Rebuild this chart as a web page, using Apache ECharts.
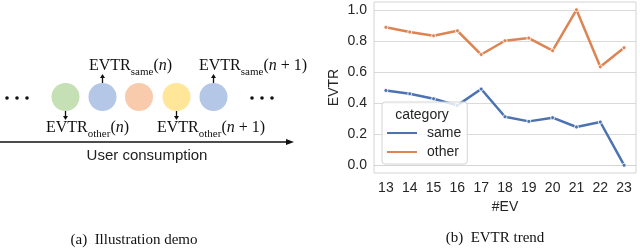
<!DOCTYPE html>
<html>
<head>
<meta charset="utf-8">
<script src="https://cdn.jsdelivr.net/npm/echarts@6/dist/echarts.min.js"></script>
<style>html,body{margin:0;padding:0;background:#fff}#c{width:640px;height:252px}</style>
</head>
<body>
<div id="c"></div>
<script>
// ---- data ----
const evCategories = ['13','14','15','16','17','18','19','20','21','22','23'];
const sameValues  = [0.481, 0.460, 0.428, 0.385, 0.490, 0.312, 0.282, 0.306, 0.246, 0.278, 0.000];
const otherValues = [0.887, 0.857, 0.833, 0.865, 0.712, 0.801, 0.818, 0.737, 1.000, 0.633, 0.756];
const yTickValues = [0, 0.2, 0.4, 0.6, 0.8, 1.0];
const seriesNames = ['same', 'other'];
const legendTitle = 'category';
const xAxisTitle = '#EV';
const yAxisTitle = 'EVTR';
const captionA = '(a)  Illustration demo';
const captionB = '(b)  EVTR trend';
const axisCaption = 'User consumption';

const BLUE = '#4c72b0', ORANGE = '#dd8452';
const SANS = 'Liberation Sans, Arial, sans-serif';
const SERIF = 'Liberation Serif, Times New Roman, serif';

const chart = echarts.init(document.getElementById('c'), null, {renderer: 'canvas'});

const rich = {
  m: {fontFamily: SERIF, fontSize: 16, color: '#111', verticalAlign: 'middle', lineHeight: 18},
  s: {fontFamily: SERIF, fontSize: 11, color: '#111', verticalAlign: 'bottom', lineHeight: 18, padding: [0, 0, -3, 0]},
  i: {fontFamily: SERIF, fontSize: 16, fontStyle: 'italic', color: '#111', verticalAlign: 'middle', lineHeight: 18}
};
function evtr(sub, arg) {
  return '{m|EVTR}{s|' + sub + '}{m|(}' + arg + '{m|)}';
}
function label(x, y, text) {
  return {type: 'text', left: x, top: y, z: 50, style: {text: text, rich: rich, fill: '#111'}};
}
function arrow(x, y1, y2) {
  const dir = y2 > y1 ? 1 : -1;
  return [
    {type: 'line', z: 50, shape: {x1: x, y1: y1, x2: x, y2: y2 - dir * 3}, style: {stroke: '#111', lineWidth: 1.3}},
    {type: 'polygon', z: 50, shape: {points: [[x - 2.5, y2 - dir * 4], [x + 2.5, y2 - dir * 4], [x, y2]]}, style: {fill: '#111'}}
  ];
}
const circleDefs = [[65.5, '#c5e0b4'], [102.5, '#b4c7e7'], [139, '#f8cbad'], [176.5, '#ffe699'], [213.5, '#b4c7e7']];
const graphics = [];
circleDefs.forEach(function (c) {
  graphics.push({type: 'circle', z: 40, shape: {cx: c[0], cy: 97, r: 14}, style: {fill: c[1]}});
});
[7, 17, 27, 252, 262, 272].forEach(function (x) {
  graphics.push({type: 'circle', z: 40, shape: {cx: x, cy: 98, r: 1.8}, style: {fill: '#111'}});
});
graphics.push.apply(graphics, arrow(102.5, 83, 74));
graphics.push.apply(graphics, arrow(213.5, 83, 74));
graphics.push.apply(graphics, arrow(65.5, 111, 120));
graphics.push.apply(graphics, arrow(176.5, 111, 120));
graphics.push(label(89, 58, evtr('same', '{i|n}')));
graphics.push(label(199, 58, evtr('same', '{i|n}{m| + 1}')));
graphics.push(label(46, 120, evtr('other', '{i|n}')));
graphics.push(label(157, 120, evtr('other', '{i|n}{m| + 1}')));
graphics.push({type: 'line', z: 40, shape: {x1: 0, y1: 142, x2: 288, y2: 142}, style: {stroke: '#111', lineWidth: 1.5}});
graphics.push({type: 'polygon', z: 40, shape: {points: [[286, 139], [286, 145], [294, 142]]}, style: {fill: '#111'}});
graphics.push({type: 'text', z: 40, x: 147, y: 156, style: {text: axisCaption, font: '15px ' + SANS, fill: '#222', align: 'center', verticalAlign: 'middle'}});
graphics.push({type: 'text', z: 40, x: 134, y: 240, style: {text: captionA, font: '15px ' + SERIF, fill: '#111', align: 'center', verticalAlign: 'middle'}});
graphics.push({type: 'text', z: 40, x: 495, y: 238, style: {text: captionB, font: '15px ' + SERIF, fill: '#111', align: 'center', verticalAlign: 'middle'}});
graphics.push({type: 'text', z: 100, x: 422, y: 115, style: {text: legendTitle, font: '14px ' + SANS, fill: '#262626', align: 'center', verticalAlign: 'middle'}});

chart.setOption({
  animation: false,
  backgroundColor: '#fff',
  grid: {left: 374, right: 4, top: 2, bottom: 79, show: true, borderColor: '#d4d4d4', borderWidth: 1, containLabel: false},
  xAxis: {
    type: 'category', data: evCategories, boundaryGap: true,
    name: xAxisTitle, nameLocation: 'middle', nameGap: 26,
    nameTextStyle: {fontFamily: SANS, fontSize: 14, color: '#262626'},
    axisLine: {show: true, lineStyle: {color: '#d4d4d4'}},
    axisTick: {show: false},
    axisLabel: {fontFamily: SANS, fontSize: 14, color: '#262626', margin: 8},
    splitLine: {show: false}
  },
  yAxis: {
    type: 'value', min: -0.05, max: 1.05,
    name: yAxisTitle, nameLocation: 'middle', nameGap: 33, nameRotate: 90,
    nameTextStyle: {fontFamily: SANS, fontSize: 14, color: '#262626'},
    axisLine: {show: false},
    axisTick: {show: false, customValues: yTickValues},
    axisLabel: {fontFamily: SANS, fontSize: 14, color: '#262626', margin: 7, customValues: yTickValues,
      formatter: function (v) { return v.toFixed(1); }},
    splitLine: {show: true, lineStyle: {color: '#dadada', width: 1}}
  },
  legend: {
    orient: 'vertical', left: 382, top: 102,
    padding: [24, 6, 5, 5], itemGap: 5,
    itemWidth: 30, itemHeight: 2,
    backgroundColor: 'rgba(255,255,255,0.8)', borderColor: '#d4d4d4', borderWidth: 1, borderRadius: 3,
    itemStyle: {borderWidth: 0},
    textStyle: {fontFamily: SANS, fontSize: 14, color: '#262626', padding: [0, 0, 0, 5]},
    data: [
      {name: seriesNames[0], icon: 'rect', itemStyle: {color: BLUE, borderWidth: 0}},
      {name: seriesNames[1], icon: 'rect', itemStyle: {color: ORANGE, borderWidth: 0}}
    ]
  },
  graphic: graphics,
  series: [
    {name: seriesNames[0], type: 'line', data: sameValues, color: BLUE,
     lineStyle: {width: 2.5, color: BLUE}, symbol: 'circle', symbolSize: 4, showSymbol: true,
     itemStyle: {color: BLUE, borderColor: '#fff', borderWidth: 0.8}, emphasis: {disabled: true}},
    {name: seriesNames[1], type: 'line', data: otherValues, color: ORANGE,
     lineStyle: {width: 2.5, color: ORANGE}, symbol: 'circle', symbolSize: 4, showSymbol: true,
     itemStyle: {color: ORANGE, borderColor: '#fff', borderWidth: 0.8}, emphasis: {disabled: true}}
  ]
});
</script>
</body>
</html>
